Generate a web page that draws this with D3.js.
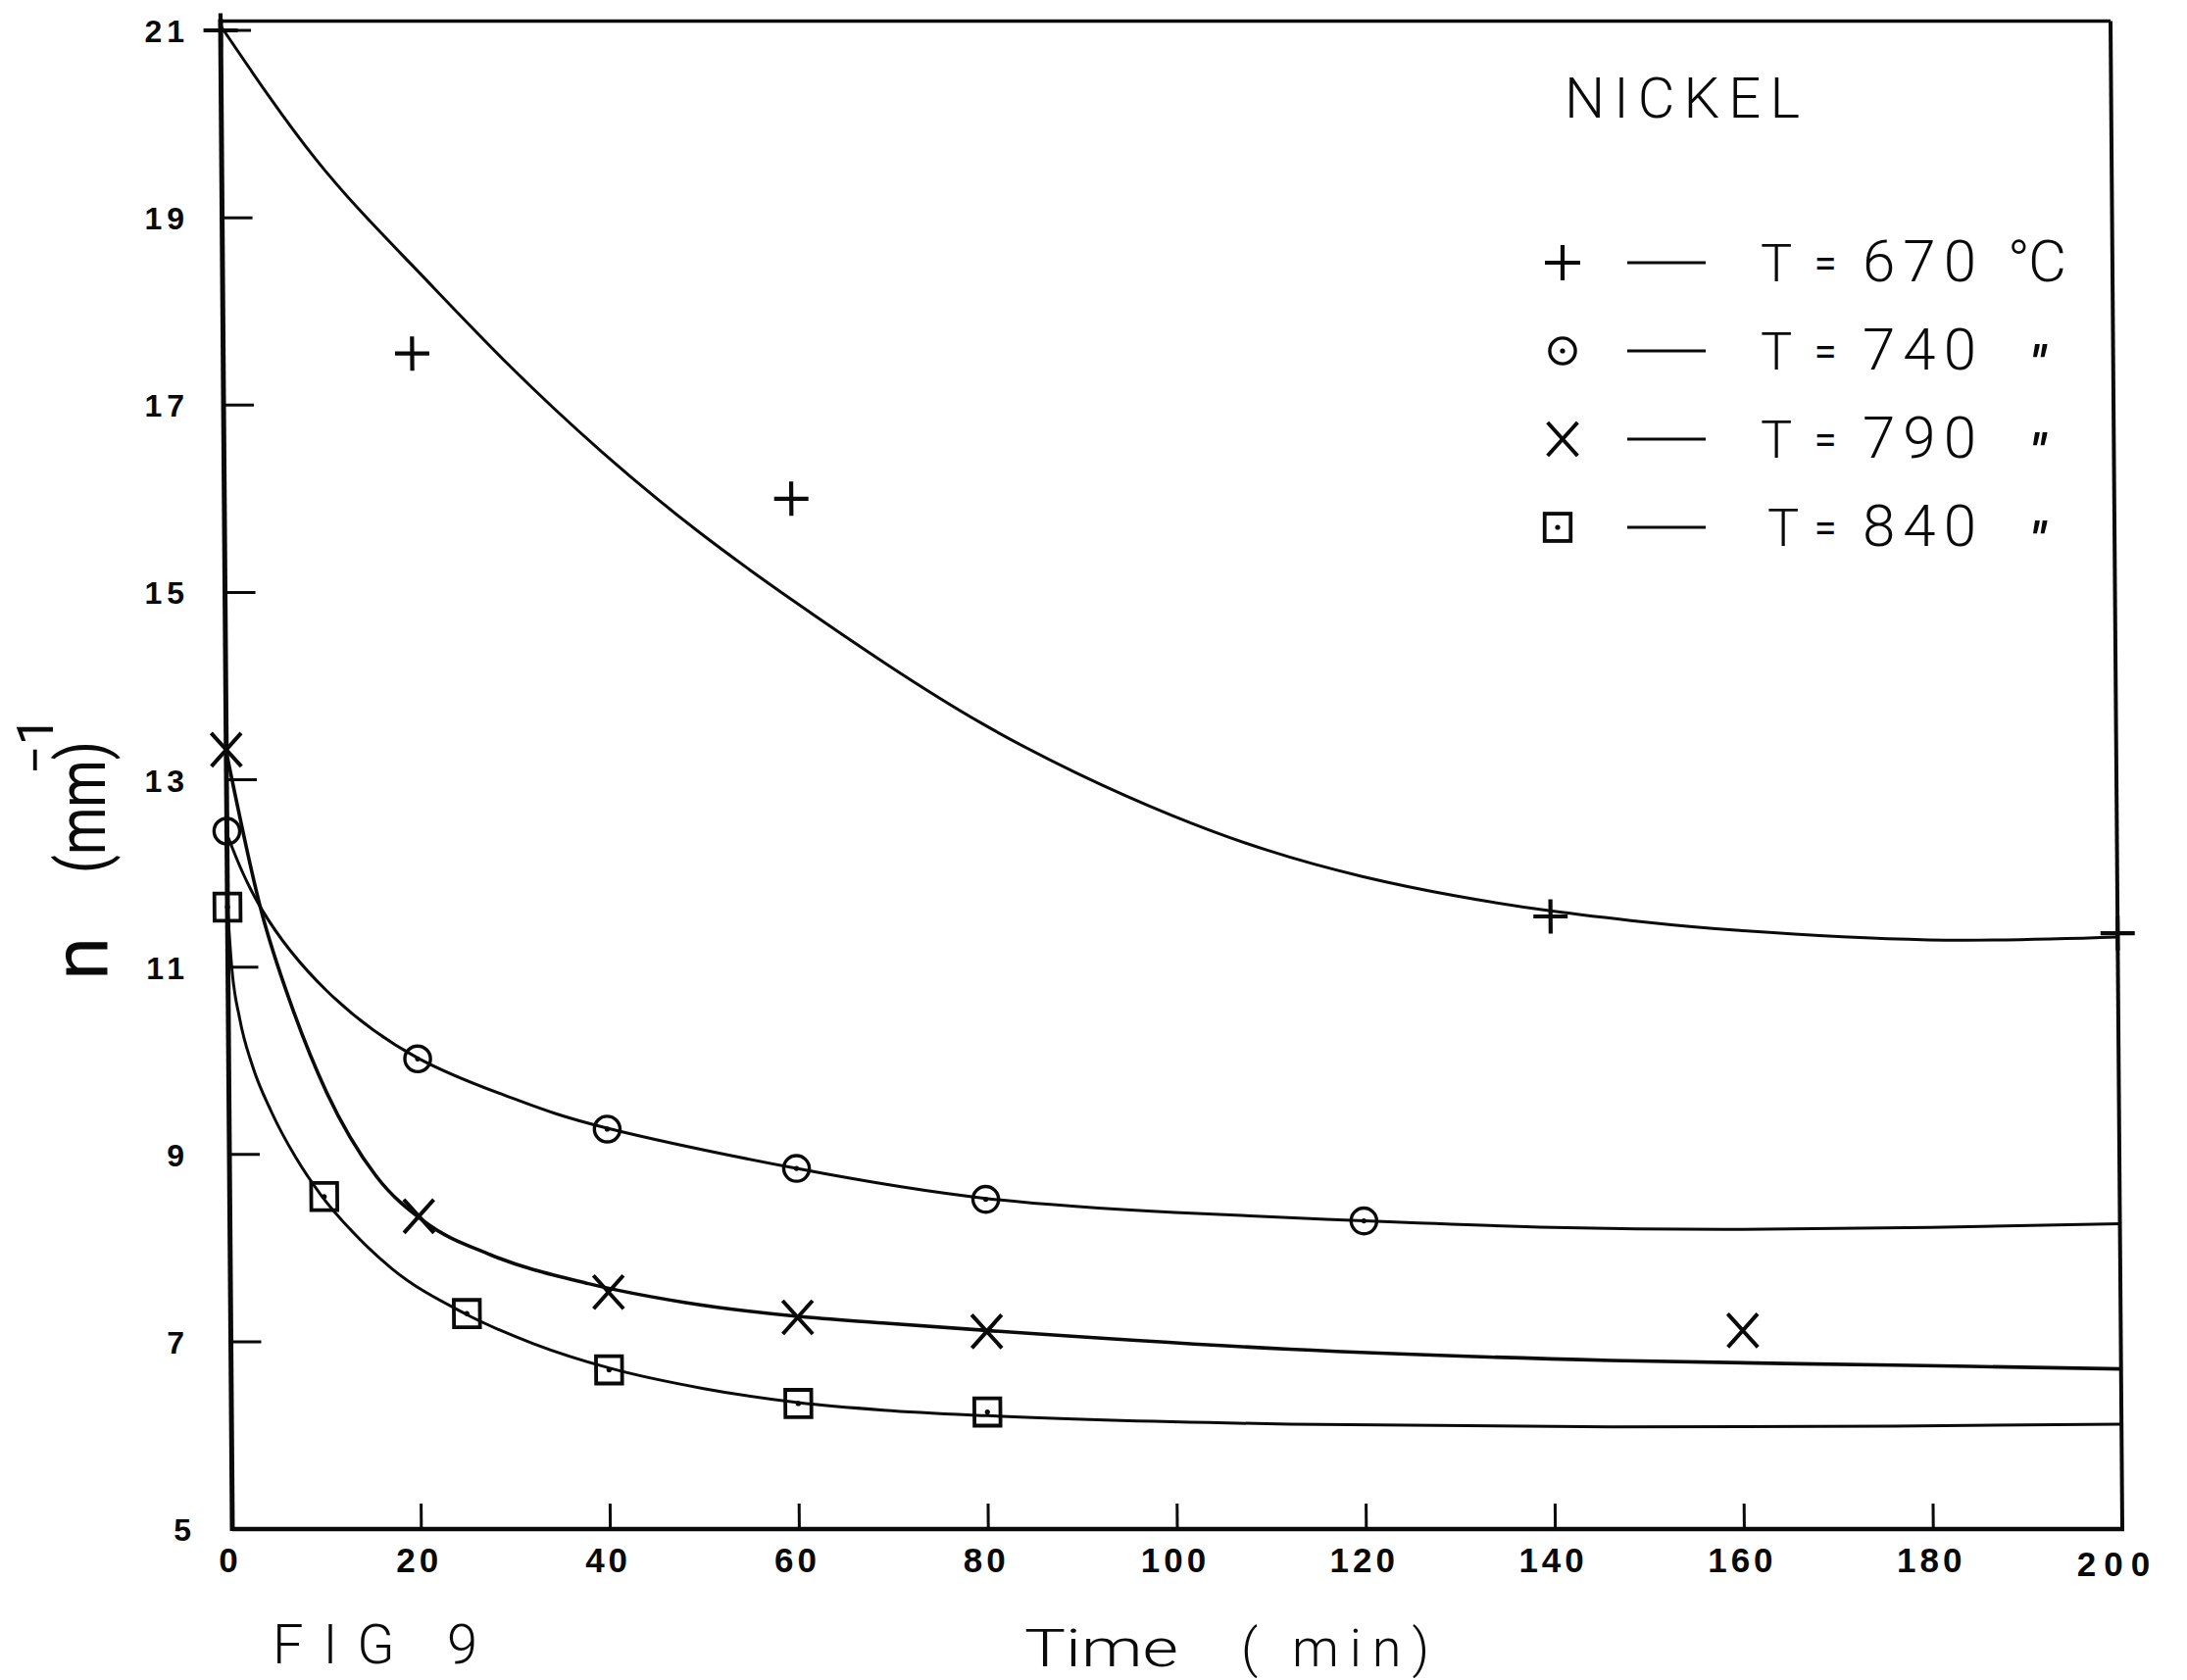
<!DOCTYPE html>
<html><head><meta charset="utf-8">
<script src="https://cdn.jsdelivr.net/npm/d3@7"></script>
<style>body{margin:0;background:#fff}</style>
</head><body>
<svg id="chart" width="2231" height="1714"></svg>
<script>
// ---------- data ----------
const xTicks = [0, 20, 40, 60, 80, 100, 120, 140, 160, 180, 200];
const yTicks = [5, 7, 9, 11, 13, 15, 17, 19, 21];
const seriesLabels = ["670", "740", "790", "840"];
const seriesUnits = ["°C", "\"", "\"", "\""];
const seriesShapes = ["plus", "circle", "cross", "square"];

// measured points (time min, n mm^-1)
const pts670 = [[0, 21.0], [20, 17.55], [60, 16.0], [140, 11.54], [200, 11.36]];
const pts740 = [[0, 12.45], [20, 10.02], [40, 9.27], [60, 8.85], [80, 8.52], [120, 8.29]];
const pts790 = [[0, 13.32], [20, 8.34], [40, 7.53], [60, 7.26], [80, 7.11], [160, 7.12]];
const pts840 = [[0, 11.64], [10, 8.55], [25, 7.30], [40, 6.70], [60, 6.34], [80, 6.25]];

// fitted curves
const fit670 = [[0, 21.05], [10, 19.62], [20, 18.5], [30, 17.45], [40, 16.5], [50, 15.66],
  [60, 14.92], [70, 14.23], [80, 13.6], [90, 13.07], [100, 12.62], [110, 12.25], [120, 11.97],
  [130, 11.76], [140, 11.6], [150, 11.48], [160, 11.39], [180, 11.29], [200, 11.32]];
const fit740 = [[0, 12.42], [3.6, 11.62], [10.4, 10.75], [20, 10.03], [30, 9.6], [40, 9.28],
  [60, 8.85], [80, 8.53], [100, 8.38], [120, 8.29], [140, 8.22], [160, 8.2],
  [180, 8.22], [200, 8.26]];
const fit790 = [[0, 13.3], [3.6, 11.59], [7, 10.5], [10.35, 9.66], [15.5, 8.77], [20.6, 8.28],
  [27.5, 7.93], [37.9, 7.62], [48, 7.42], [60, 7.27], [69, 7.2], [80, 7.12], [112, 6.92],
  [146, 6.8], [176, 6.75], [200, 6.71]];
const fit840 = [[0, 11.64], [0.4, 11.0], [1.2, 10.45], [2.5, 9.95], [4.5, 9.45], [7, 8.97],
  [9.7, 8.56], [13, 8.17], [17.1, 7.78], [24.8, 7.30], [32, 6.98], [40, 6.72], [50, 6.5],
  [60, 6.35], [69, 6.27], [80, 6.21], [112, 6.12], [146, 6.09], [176, 6.1], [200, 6.12]];

const pointSets = [pts670, pts740, pts790, pts840];
const fitSets = [fit670, fit740, fit790, fit840];

// ---------- layout ----------
const svg = d3.select("#chart");
const x = d3.scaleLinear().domain([0, 200]).range([237, 2165]);
const y = d3.scaleLinear().domain([5, 21]).range([1560, 31]);
const frameTop = y(21.1);
const shear = 0.0078; // hand-drawn frame leans slightly
const ink = "#0a0a0a";

svg.append("rect").attr("width", 2231).attr("height", 1714).attr("fill", "#fff");

const plot = svg.append("g")
  .attr("transform", `matrix(1,0,${shear},1,${-shear * y(5)},0)`);

// frame
const x0 = x(0), x1 = x(200), yb = y(5);
plot.append("line").attr("x1", x0).attr("x2", x1).attr("y1", frameTop).attr("y2", frameTop)
  .attr("stroke", ink).attr("stroke-width", 3.5);
plot.append("line").attr("x1", x1).attr("x2", x1).attr("y1", frameTop).attr("y2", yb)
  .attr("stroke", ink).attr("stroke-width", 4);
plot.append("line").attr("x1", x0).attr("x2", x1 + 2).attr("y1", yb).attr("y2", yb)
  .attr("stroke", ink).attr("stroke-width", 4.5);
plot.append("line").attr("x1", x0).attr("x2", x0).attr("y1", frameTop - 2).attr("y2", yb + 2)
  .attr("stroke", ink).attr("stroke-width", 5);

// ticks (inward)
plot.append("g").selectAll("line").data(xTicks.slice(1, -1)).join("line")
  .attr("x1", d => x(d)).attr("x2", d => x(d))
  .attr("y1", yb).attr("y2", yb - 26)
  .attr("stroke", ink).attr("stroke-width", 3);
plot.append("g").selectAll("line").data(yTicks.slice(1)).join("line")
  .attr("x1", x0).attr("x2", x0 + 31)
  .attr("y1", d => y(d)).attr("y2", d => y(d))
  .attr("stroke", ink).attr("stroke-width", 3);

// fitted curves
const smooth = d3.line().x(d => x(d[0])).y(d => y(d[1])).curve(d3.curveNatural);
const steep = d3.line().x(d => x(d[0])).y(d => y(d[1])).curve(d3.curveMonotoneX);
plot.append("g").selectAll("path").data(fitSets).join("path")
  .attr("d", (d, i) => i < 2 ? smooth(d) : steep(d))
  .attr("fill", "none").attr("stroke", ink)
  .attr("stroke-width", (d, i) => i === 2 ? 3.6 : 3)
  .attr("stroke-linejoin", "round");

// marker shapes
function drawMarker(g, shape, s) {
  if (shape === "plus") {
    g.append("path").attr("d", `M${-s},0H${s}M0,${-s}V${s}`)
      .attr("stroke", ink).attr("stroke-width", 4.2).attr("fill", "none");
  } else if (shape === "circle") {
    g.append("circle").attr("r", s * 0.77).attr("stroke", ink).attr("stroke-width", 3.4).attr("fill", "none");
    g.append("circle").attr("r", 2.6).attr("fill", ink);
  } else if (shape === "cross") {
    g.append("path").attr("d", `M${-s * 0.9},${-s}L${s * 0.9},${s}M${-s * 0.9},${s}L${s * 0.9},${-s}`)
      .attr("stroke", ink).attr("stroke-width", 4).attr("fill", "none");
  } else {
    g.append("rect").attr("x", -s * 0.78).attr("y", -s * 0.82).attr("width", s * 1.56).attr("height", s * 1.64)
      .attr("stroke", ink).attr("stroke-width", 3.8).attr("fill", "none");
    g.append("circle").attr("r", 2.6).attr("fill", ink);
  }
}

pointSets.forEach((pts, i) => {
  const g = plot.append("g");
  g.selectAll("g").data(pts).join("g")
    .attr("transform", d => `translate(${x(d[0])},${y(d[1])})`)
    .each(function () { drawMarker(d3.select(this), seriesShapes[i], seriesShapes[i] === "plus" ? 17.5 : 17); });
});

// ---------- tick labels ----------
const tickFont = "'Liberation Sans', Arial, sans-serif";
svg.append("g").selectAll("text").data(xTicks).join("text")
  .attr("x", d => x(d) - 2 + (d === 200 ? -3 : 0))
  .attr("y", d => d === 200 ? 1608 : 1604)
  .attr("text-anchor", "middle")
  .attr("font-family", tickFont).attr("font-weight", "bold")
  .attr("font-size", 35).attr("letter-spacing", d => d === 200 ? 8 : 4)
  .attr("fill", ink)
  .text(d => d);

svg.append("g").selectAll("text").data(yTicks).join("text")
  .attr("x", d => d === 5 ? 200 : 193)
  .attr("y", d => y(d) + 12)
  .attr("text-anchor", "end")
  .attr("font-family", tickFont).attr("font-weight", "bold")
  .attr("font-size", 32).attr("letter-spacing", 5)
  .attr("fill", ink)
  .text(d => d);

// ---------- titles ----------
const thin = "Roboto, 'Open Sans', 'DejaVu Sans', sans-serif";
svg.append("text").attr("x", 1045).attr("y", 1700)
  .attr("font-family", thin).attr("font-weight", 300).attr("font-size", 54)
  .attr("textLength", 157).attr("lengthAdjust", "spacingAndGlyphs")
  .attr("fill", ink).text("Time");
svg.append("text").attr("x", 1266).attr("y", 1700)
  .attr("font-family", thin).attr("font-weight", 300).attr("font-size", 54)
  .attr("textLength", 192).attr("lengthAdjust", "spacing")
  .attr("fill", ink).text("( min)");
svg.append("text").attr("x", 278).attr("y", 1697)
  .attr("font-family", thin).attr("font-weight", 300).attr("font-size", 56)
  .attr("textLength", 209).attr("lengthAdjust", "spacing")
  .attr("fill", ink).text("FIG   9");

// y title (rotated)
svg.append("text").attr("transform", "translate(110,1000) rotate(-90)")
  .attr("font-family", thin).attr("font-weight", 400).attr("font-size", 80)
  .attr("fill", ink).text("n");
svg.append("text").attr("transform", "translate(107,891) rotate(-90)")
  .attr("font-family", thin).attr("font-weight", 400).attr("font-size", 68)
  .attr("textLength", 135).attr("lengthAdjust", "spacingAndGlyphs")
  .attr("fill", ink).text("(mm)");
svg.append("text").attr("transform", "translate(54,790) rotate(-90)")
  .attr("font-family", thin).attr("font-weight", 400).attr("font-size", 52)
  .attr("fill", ink).text("\u22121");

// ---------- legend ----------
svg.append("text").attr("x", 1596).attr("y", 120)
  .attr("font-family", thin).attr("font-weight", 300).attr("font-size", 58)
  .attr("textLength", 240).attr("lengthAdjust", "spacing")
  .attr("fill", ink).text("NICKEL");

const legendRows = seriesLabels.map((lab, i) => ({ lab, unit: seriesUnits[i], shape: seriesShapes[i], i }));
const leg = svg.append("g").selectAll("g").data(legendRows).join("g")
  .attr("transform", d => `translate(0,${268 + d.i * 90})`);

leg.each(function (d) {
  const g = d3.select(this);
  const m = g.append("g").attr("transform", `translate(${d.i === 3 ? 1589 : 1594},0)`);
  drawMarker(m, d.shape, d.shape === "plus" ? 18 : 17);
  g.append("line").attr("x1", 1660).attr("x2", 1740).attr("y1", 0).attr("y2", 0)
    .attr("stroke", ink).attr("stroke-width", 3.2);
  g.append("text").attr("x", d.i === 3 ? 1803 : 1796).attr("y", 19)
    .attr("font-family", thin).attr("font-weight", 300).attr("font-size", 54)
    .attr("fill", ink).text("T");
  g.append("text").attr("x", 1862).attr("y", 15).attr("text-anchor", "middle")
    .attr("font-family", thin).attr("font-weight", 400).attr("font-size", 42)
    .attr("fill", ink).text("=");
  g.append("text").attr("x", 1900).attr("y", 19)
    .attr("font-family", thin).attr("font-weight", 300).attr("font-size", 60)
    .attr("textLength", 116).attr("lengthAdjust", "spacing")
    .attr("fill", ink).text(d.lab);
  if (d.i === 0) {
    g.append("text").attr("x", 2048).attr("y", 19)
      .attr("font-family", thin).attr("font-weight", 300).attr("font-size", 60)
      .attr("textLength", 60).attr("lengthAdjust", "spacing")
      .attr("fill", ink).text(d.unit);
  } else {
    g.append("text").attr("x", 2071).attr("y", 30)
      .attr("font-family", thin).attr("font-weight", 700).attr("font-style", "italic").attr("font-size", 50)
      .attr("fill", ink).text(d.unit);
  }
});
</script>
</body></html>
